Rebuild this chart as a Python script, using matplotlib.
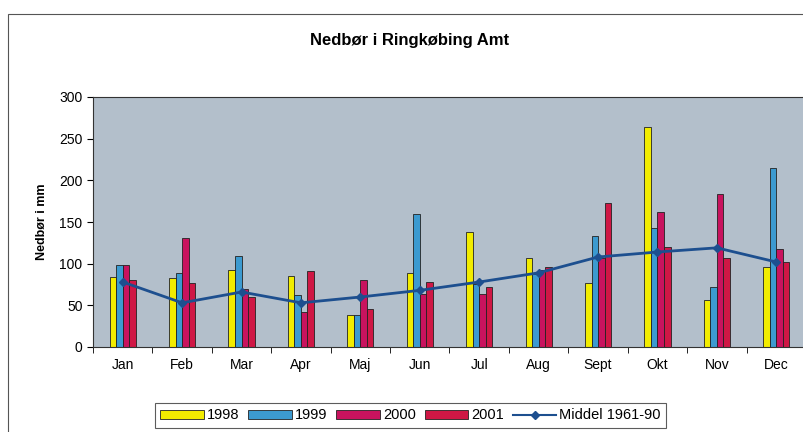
import numpy as np
import matplotlib.pyplot as plt
from matplotlib.patches import Rectangle, Patch
from matplotlib.lines import Line2D

plt.rcParams['font.family'] = ['Liberation Sans', 'DejaVu Sans']

months = ["Jan", "Feb", "Mar", "Apr", "Maj", "Jun", "Jul", "Aug", "Sept", "Okt", "Nov", "Dec"]
y1998 = [84, 83, 92, 85, 38, 89, 138, 107, 77, 264, 56, 96]
y1999 = [98, 89, 109, 62, 39, 160, 76, 88, 133, 143, 72, 215]
y2000 = [98, 131, 70, 42, 80, 64, 64, 93, 107, 162, 184, 118]
y2001 = [80, 77, 60, 91, 46, 78, 72, 96, 173, 120, 107, 102]
middel = [78, 53, 66, 53, 60, 68, 78, 89, 108, 114, 119, 102]

series = [("1998", y1998, "#f2ec00"),
          ("1999", y1999, "#3c9ad0"),
          ("2000", y2000, "#c8135e"),
          ("2001", y2001, "#cf1745")]

fig = plt.figure(figsize=(8.04, 4.32), dpi=100)
fig.patch.set_facecolor("white")

# outer chart border
fig.patches.append(Rectangle((8/804, -0.05), 1.0, 1 - 14/432 + 0.05,
                             transform=fig.transFigure, fill=False,
                             edgecolor="#555555", linewidth=0.8))

ax = fig.add_axes([93/804, 85/432, 713/804, 250/432])
ax.set_facecolor("#b3bfcb")

x = np.arange(len(months))
w = 0.11
for i, (name, vals, col) in enumerate(series):
    ax.bar(x + (i - 1.5) * w, vals, width=w, color=col,
           edgecolor="#222222", linewidth=0.6, zorder=2)

ax.plot(x, middel, color="#1d4f8f", linewidth=2, marker="D",
        markersize=4.5, zorder=3)

ax.set_xlim(-0.5, 11.5)
ax.set_ylim(0, 300)
ax.set_yticks(range(0, 301, 50))
ax.set_xticks(x)
ax.set_xticklabels(months, fontsize=10)
ax.set_xticks(np.arange(-0.5, 12, 1), minor=True)
ax.tick_params(axis="x", which="major", length=0, pad=8)
ax.tick_params(axis="x", which="minor", length=4, direction="out")
ax.tick_params(axis="y", labelsize=10, length=4, direction="out")
for s in ax.spines.values():
    s.set_linewidth(0.8)
    s.set_color("#333333")

ax.set_ylabel("Nedbør i mm", fontsize=9, fontweight="bold", labelpad=8)
fig.text(410/804, 1 - 40/432, "Nedbør i Ringkøbing Amt", ha="center",
         va="center", fontsize=12, fontweight="bold")

handles = [Patch(facecolor=c, edgecolor="#222222", linewidth=0.6, label=n)
           for n, _, c in series]
handles.append(Line2D([], [], color="#1d4f8f", linewidth=1.5, marker="D",
                      markersize=4, label="Middel 1961-90"))
leg = fig.legend(handles=handles, loc="upper left",
                 bbox_to_anchor=(148/804, 1 - 396/432), ncol=5, fontsize=10.5,
                 frameon=True, fancybox=False, edgecolor="#333333",
                 handlelength=3.0, handleheight=0.6, handletextpad=0.2,
                 columnspacing=0.6, borderpad=0.35)
leg.get_frame().set_linewidth(0.8)

fig.savefig("out.png", dpi=100)
